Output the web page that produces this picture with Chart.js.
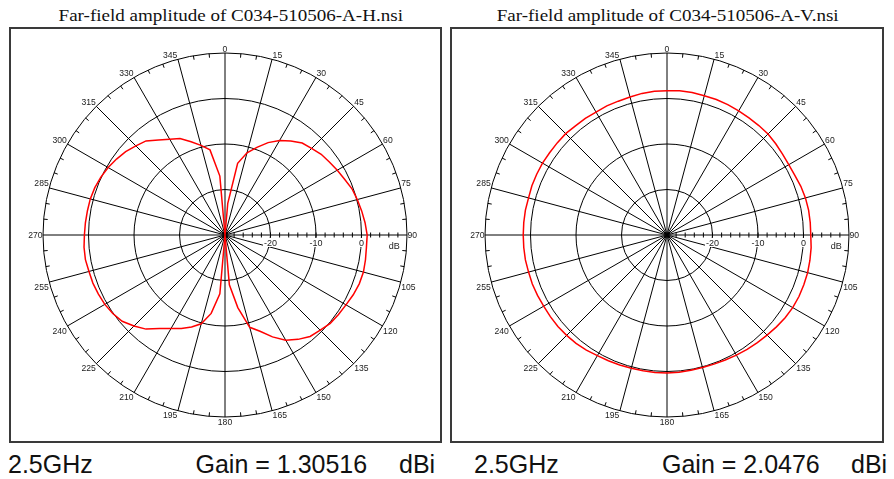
<!DOCTYPE html>
<html lang="en">
<head>
    <meta charset="UTF-8">
    <title>Far-field amplitude - C034-510506-A</title>
    <script src="https://cdnjs.cloudflare.com/ajax/libs/Chart.js/4.4.1/chart.umd.min.js"></script>
    <style>
        body {
            margin: 0;
            background: #fff;
            width: 894px;
            height: 479px;
            position: relative;
            overflow: hidden;
        }
        .frame {
            position: absolute;
            border: 2px solid #3a3a3a;
            box-sizing: border-box;
        }
        canvas {
            position: absolute;
        }
        .title {
            position: absolute;
            top: 6.5px;
            width: 500px;
            text-align: center;
            font-family: 'Liberation Serif', 'Times New Roman', serif;
            font-size: 17px;
            line-height: 17px;
            color: #111;
            white-space: nowrap;
        }
        .title span {
            display: inline-block;
            transform: scaleX(1.12);
        }
        .foot {
            position: absolute;
            top: 451.8px;
            font-family: 'Liberation Sans', Arial, sans-serif;
            font-size: 25px;
            line-height: 25px;
            color: #111;
            white-space: nowrap;
        }
    </style>
</head>
<body>
    <div class="title" style="left:-19.5px"><span>Far-field amplitude of C034-510506-A-H.nsi</span></div>
    <div class="title" style="left:418px"><span>Far-field amplitude of C034-510506-A-V.nsi</span></div>

    <div class="frame" style="left:9px; top:27px; width:433px; height:416px;"></div>
    <div class="frame" style="left:450px; top:27px; width:434px; height:416px;"></div>

    <canvas id="chartH" width="429" height="412" style="left:11px; top:29px;"></canvas>
    <canvas id="chartV" width="430" height="412" style="left:452px; top:29px;"></canvas>

    <div class="foot" style="left:8px">2.5GHz</div>
    <div class="foot" style="left:195.5px">Gain = 1.30516</div>
    <div class="foot" style="left:399px">dBi</div>
    <div class="foot" style="left:474px">2.5GHz</div>
    <div class="foot" style="left:662px">Gain = 2.0476</div>
    <div class="foot" style="left:851px">dBi</div>

    <script>
        // angles (deg, clockwise from top), one point every 5 degrees
        const angles = [
            0, 5, 10, 15, 20, 25, 30, 35, 40, 45, 50, 55,
            60, 65, 70, 75, 80, 85, 90, 95, 100, 105, 110, 115,
            120, 125, 130, 135, 140, 145, 150, 155, 160, 165, 170, 175,
            180, 185, 190, 195, 200, 205, 210, 215, 220, 225, 230, 235,
            240, 245, 250, 255, 260, 265, 270, 275, 280, 285, 290, 295,
            300, 305, 310, 315, 320, 325, 330, 335, 340, 345, 350, 355
        ];

        // H polarisation, dB (clipped at -30 = centre)
        const gainH = [
            -30, -23, -14, -11.3, -9.5, -7.6, -6.0, -4.8, -3.6, -3.1, -2.4, -2.0,
            -1.5, -1.0, -0.3, 0.1, 0.5, 0.9, 1.25, 1.2, 1.35, 1.5, 1.4, 1.1,
            0.7, 0.45, 0.2, -0.4, -0.9, -2.0, -3.3, -5.3, -7.5, -9.0, -13.8, -19,
            -30, -17, -12.5, -9.8, -8.5, -7.3, -6.3, -4.9, -3.0, -1.7, -0.5, 0.1,
            0.5, 0.7, 0.9, 0.95, 1.15, 1.1, 0.9, 0.8, 0.7, 0.65, 0.45, 0.1,
            -0.35, -0.9, -1.5, -2.3, -3.0, -4.5, -5.7, -6.6, -8.2, -9.6, -11.0, -17
        ];

        // V polarisation, dB
        const gainV = [
            1.7, 1.8, 1.8, 1.7, 1.7, 1.6, 1.5, 1.4, 1.4, 1.4, 1.2, 1.0,
            0.9, 1.0, 1.3, 1.5, 1.6, 1.6, 1.6, 1.8, 1.9, 2.0, 2.0, 2.0,
            1.9, 1.7, 1.4, 1.1, 0.9, 0.7, 0.5, 0.3, 0.2, 0.15, 0.2, 0.3,
            0.35, 0.35, 0.3, 0.3, 0.4, 0.5, 0.6, 0.9, 1.1, 1.2, 1.3, 1.3,
            1.3, 1.4, 1.5, 1.5, 1.6, 1.6, 1.6, 1.6, 1.6, 1.5, 1.6, 1.6,
            1.6, 1.5, 1.5, 1.5, 1.3, 1.3, 1.2, 1.3, 1.3, 1.4, 1.6, 1.7
        ];

        // radial scale: centre = -30 dB, outer ring = +10 dB
        const rMin = -30;
        const rMax = 10;
        const dbLabels = ['-20', '-10', '0', 'dB'];
        const dbLabelPos = [-20, -10, 0, 7.2];

        // extras the radial scale does not draw itself:
        // 5 deg ticks on the rim, 2 dB ticks on the 90 deg axis, angle and dB labels
        const polarExtras = {
            id: 'polarExtras',
            beforeDatasetsDraw(chart) {
                const s = chart.scales.r;
                const ctx = chart.ctx;
                const cx = s.xCenter, cy = s.yCenter;
                const R = s.getDistanceFromCenterForValue(rMax);
                ctx.save();
                ctx.strokeStyle = '#000';
                ctx.lineWidth = 1;

                angles.forEach((a, i) => {
                    if (a % 15 === 0) return;
                    const p1 = s.getPointPosition(i, R);
                    const p2 = s.getPointPosition(i, R - 4);
                    ctx.beginPath();
                    ctx.moveTo(p1.x, p1.y);
                    ctx.lineTo(p2.x, p2.y);
                    ctx.stroke();
                });

                for (let v = rMin + 2; v < rMax; v += 2) {
                    const x = cx + s.getDistanceFromCenterForValue(v);
                    ctx.beginPath();
                    ctx.moveTo(x, cy - 2.5);
                    ctx.lineTo(x, cy + 2.5);
                    ctx.stroke();
                }

                ctx.font = '8.6px "Liberation Sans", Arial, sans-serif';
                ctx.fillStyle = '#222';
                ctx.textBaseline = 'alphabetic';
                angles.forEach((a, i) => {
                    if (a % 15 !== 0) return;
                    const p = s.getPointPosition(i, R);
                    let x = p.x, y;
                    if (a === 0 || a === 180) ctx.textAlign = 'center';
                    else if (a < 180) { ctx.textAlign = 'left'; x += 0.5; }
                    else { ctx.textAlign = 'right'; x -= 0.5; }
                    if (a === 90 || a === 270) y = p.y + 3;
                    else if (a < 90 || a > 270) y = p.y - 1.5;
                    else y = p.y + 7.5;
                    ctx.fillText(String(a), x, y);
                });

                ctx.font = '9px "Liberation Sans", Arial, sans-serif';
                ctx.textAlign = 'center';
                dbLabels.forEach((t, k) => {
                    const x = cx + s.getDistanceFromCenterForValue(dbLabelPos[k]);
                    const y = cy + (t === 'dB' ? 13.5 : 10.5);
                    const w = ctx.measureText(t).width;
                    ctx.fillStyle = '#fff';
                    ctx.fillRect(x - w / 2 - 1, y - 7.5, w + 2, 9);
                    ctx.fillStyle = '#222';
                    ctx.fillText(t, x, y);
                });
                ctx.restore();
            }
        };

        function makePolar(id, values, pad) {
            return new Chart(document.getElementById(id), {
                type: 'radar',
                data: {
                    labels: angles,
                    datasets: [{
                        data: values,
                        borderColor: '#ff0000',
                        borderWidth: 1.5,
                        pointRadius: 0,
                        fill: false,
                        tension: 0
                    }]
                },
                options: {
                    responsive: false,
                    animation: false,
                    devicePixelRatio: 1,
                    events: [],
                    layout: { padding: pad },
                    plugins: {
                        legend: { display: false },
                        tooltip: { enabled: false }
                    },
                    scales: {
                        r: {
                            min: rMin,
                            max: rMax,
                            startAngle: 0,
                            ticks: { display: false, stepSize: 10 },
                            grid: { circular: true, color: '#000', lineWidth: 1 },
                            angleLines: {
                                display: true,
                                color: '#000',
                                lineWidth: (c) => (angles[c.index] % 15 === 0 ? 1 : 0)
                            },
                            pointLabels: { display: false }
                        }
                    }
                },
                plugins: [polarExtras]
            });
        }

        makePolar('chartH', gainH, { left: 32, right: 33, top: 24, bottom: 24 });
        makePolar('chartV', gainV, { left: 33, right: 33, top: 24, bottom: 24 });
    </script>
</body>
</html>
